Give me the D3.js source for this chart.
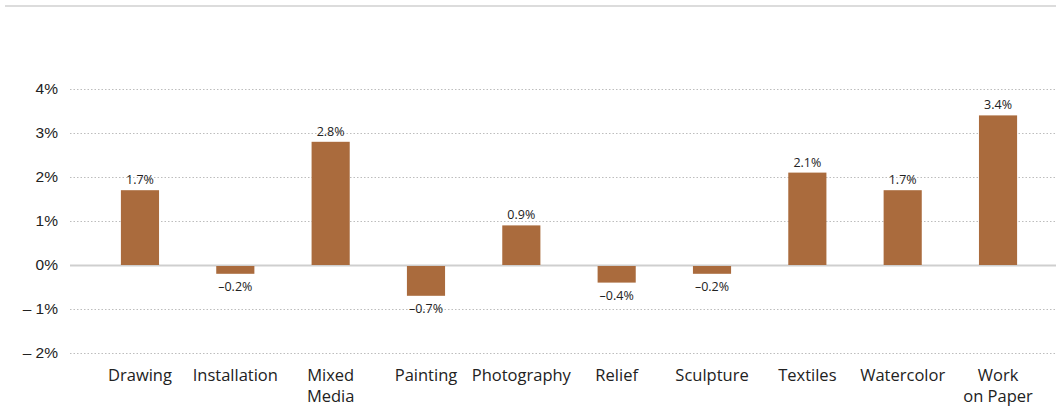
<!DOCTYPE html>
<html><head><meta charset="utf-8">
<script src="https://cdn.jsdelivr.net/npm/d3@7"></script>
<style>
body{margin:0;background:#fff;}
svg{display:block;font-family:"Open Sans",sans-serif;}
</style></head><body>
<svg id="c" width="1056" height="420"></svg>
<script>
const categories = ["Drawing","Installation","Mixed Media","Painting","Photography","Relief","Sculpture","Textiles","Watercolor","Work on Paper"];
const categoryLines = [["Drawing"],["Installation"],["Mixed","Media"],["Painting"],["Photography"],["Relief"],["Sculpture"],["Textiles"],["Watercolor"],["Work","on Paper"]];
const values = [1.7,-0.2,2.8,-0.7,0.9,-0.4,-0.2,2.1,1.7,3.4];
const yTicks = [-2,-1,0,1,2,3,4];

const svg = d3.select("#c");
const W = 1056, H = 420;
const x = d3.scaleBand().domain(categories).range([92.3, 1045.7]).paddingInner(0.6).paddingOuter(0.3);
const y = d3.scaleLinear().domain([-2, 4]).range([353, 89]);
const color = "#AA6B3D";
const fmtTick = v => (v < 0 ? "\u2013 " + Math.abs(v) : v) + "%";
const fmtVal = v => (v < 0 ? "\u2013" + Math.abs(v).toFixed(1) : v.toFixed(1)) + "%";

// top rule
svg.append("line").attr("x1",5).attr("x2",W).attr("y1",6).attr("y2",6)
  .attr("stroke","#d0d0d0").attr("stroke-width",1.5);

// grid
const yAxis = d3.axisLeft(y).tickValues(yTicks).tickFormat(fmtTick).tickSize(0).tickPadding(12);
const gy = svg.append("g").attr("transform","translate(70,0)").call(yAxis);
gy.select(".domain").remove();
gy.selectAll("text").attr("font-size",15.5).attr("fill","#222");
gy.selectAll(".tick").append("line")
  .attr("x1",0).attr("x2",W-70)
  .attr("stroke", d => d === 0 ? "#cfcfcf" : "#bdbdbd")
  .attr("stroke-width", d => d === 0 ? 2 : 1)
  .attr("stroke-dasharray", d => d === 0 ? null : "1.5,2");

// bars
svg.append("g").selectAll("rect").data(values).join("rect")
  .attr("x",(d,i)=>x(categories[i]))
  .attr("width",x.bandwidth())
  .attr("y",d=>d>=0?y(d):y(0)+1)
  .attr("height",d=>Math.abs(y(d)-y(0)) - (d<0?1:0))
  .attr("fill",color);

// value labels
svg.append("g").selectAll("text").data(values).join("text")
  .attr("x",(d,i)=>x(categories[i])+x.bandwidth()/2)
  .attr("y",d=>d>=0?y(d)-6:y(d)+17)
  .attr("text-anchor","middle").attr("font-size",12.5).attr("fill","#222")
  .text(fmtVal);

// x labels
const xl = svg.append("g").selectAll("text").data(categories).join("text")
  .attr("x",d=>x(d)+x.bandwidth()/2)
  .attr("y",381)
  .attr("text-anchor","middle").attr("font-size",16.5).attr("fill","#222");
xl.each(function(d,i){
  const t = d3.select(this);
  categoryLines[i].forEach((ln,j)=>{
    t.append("tspan").attr("x",x(d)+x.bandwidth()/2).attr("dy", j===0?0:21).text(ln);
  });
});
</script></body></html>
